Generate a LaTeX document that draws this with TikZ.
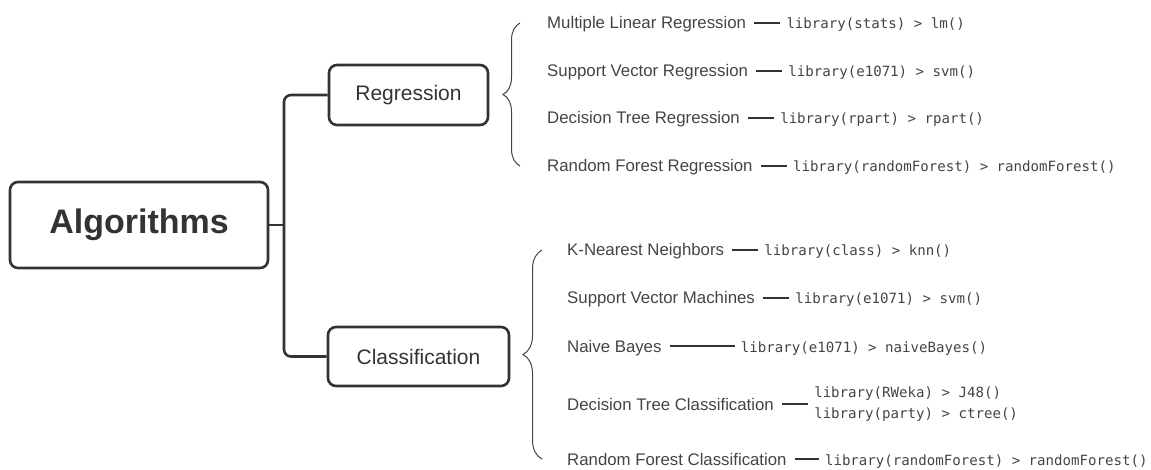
\documentclass[tikz,border=0pt]{standalone}
\usepackage{fontspec}
\setmainfont{Liberation Sans}
\newfontfamily\codefont{DejaVu Sans Mono}
\usetikzlibrary{calc,decorations.pathreplacing}

\definecolor{ink}{HTML}{333333}
\definecolor{txt}{HTML}{444444}

\tikzset{
  box/.style={draw=ink, line width=2.6pt, rounded corners=8pt, text=ink, inner sep=0pt},
  trunk/.style={draw=ink, line width=2.6pt, rounded corners=7pt},
  item/.style={anchor=west, inner sep=0pt, text=txt, text height=13pt, text depth=1pt,
               font=\fontsize{16.8}{18}\selectfont},
  code/.style={anchor=west, inner sep=0pt, text=txt, text height=13pt, text depth=1pt,
               font=\codefont\fontsize{14.1}{20}\selectfont},
  codetwo/.style={anchor=west, inner sep=0pt, text=txt, align=left,
               font=\codefont\fontsize{14.1}{20.5}\selectfont},
  link/.style={draw=ink, line width=1.1pt, shorten <=8pt, shorten >=6pt},
  curly/.style={draw=txt, line width=1pt, decorate,
                decoration={brace, amplitude=#1}},
}

\begin{document}
\begin{tikzpicture}[x=1pt, y=-1pt]
\useasboundingbox (0,0) rectangle (1151,470);

% main boxes
\node[box, minimum width=258pt, minimum height=86pt,
      font=\fontsize{34}{40}\selectfont\bfseries] (alg) at (139,225) {Algorithms};
\node[box, minimum width=159pt, minimum height=60pt,
      font=\fontsize{21}{24}\selectfont] (reg) at (408.5,95) {Regression};
\node[box, minimum width=181pt, minimum height=59pt,
      font=\fontsize{21}{24}\selectfont] (cls) at (418.5,356.5) {Classification};

% tree connectors
\coordinate (fork) at (284,225);
\draw[trunk] (alg.east) -- (fork);
\draw[trunk] (reg.west) -| (fork) |- (cls.west);

% braces
\coordinate (rb1) at (520,166);
\coordinate (rb2) at (520,23);
\draw[curly=17pt] (rb1) -- (rb2);
\coordinate (cb1) at (542,459);
\coordinate (cb2) at (542,250);
\draw[curly=19pt] (cb1) -- (cb2);

% regression methods
\node[item] (r1) at (547,23) {Multiple Linear Regression};
\node[code] (c1) at ($(r1.east)+(40,0)$) {library(stats) > lm()};
\draw[link] (r1.east) -- (c1.west);

\node[item] (r2) at (547,71) {Support Vector Regression};
\node[code] (c2) at ($(r2.east)+(40,0)$) {library(e1071) > svm()};
\draw[link] (r2.east) -- (c2.west);

\node[item] (r3) at (547,118) {Decision Tree Regression};
\node[code] (c3) at ($(r3.east)+(40,0)$) {library(rpart) > rpart()};
\draw[link] (r3.east) -- (c3.west);

\node[item] (r4) at (547,166) {Random Forest Regression};
\node[code] (c4) at ($(r4.east)+(40,0)$) {library(randomForest) > randomForest()};
\draw[link] (r4.east) -- (c4.west);

% classification methods
\node[item] (k1) at (567,250) {K-Nearest Neighbors};
\node[code] (d1) at ($(k1.east)+(40,0)$) {library(class) > knn()};
\draw[link] (k1.east) -- (d1.west);

\node[item] (k2) at (567,298) {Support Vector Machines};
\node[code] (d2) at ($(k2.east)+(40,0)$) {library(e1071) > svm()};
\draw[link] (k2.east) -- (d2.west);

\node[item] (k3) at (567,346) {Naive Bayes};
\node[code] (d3) at ($(k3.east)+(79,0)$) {library(e1071) > naiveBayes()};
\draw[link] (k3.east) -- (d3.west);

\node[item] (k4) at (567,404) {Decision Tree Classification};
\node[codetwo] (d4) at ($(k4.east)+(40,0)$) {library(RWeka) > J48()\\library(party) > ctree()};
\draw[link] (k4.east) -- (d4.west);

\node[item] (k5) at (567,459) {Random Forest Classification};
\node[code] (d5) at ($(k5.east)+(38,0)$) {library(randomForest) > randomForest()};
\draw[link] (k5.east) -- (d5.west);
\end{tikzpicture}
\end{document}
